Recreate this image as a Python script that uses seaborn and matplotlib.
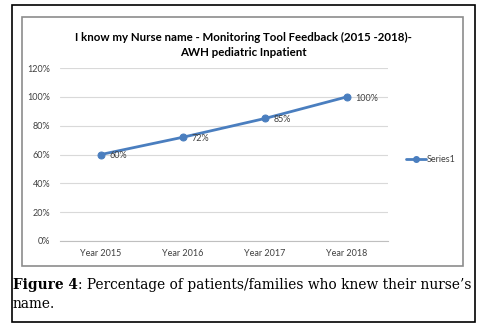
import matplotlib
matplotlib.use("Agg")
import matplotlib.pyplot as plt
import seaborn as sns
import pandas as pd
from matplotlib.patches import Rectangle
from matplotlib.lines import Line2D

categories = ["Year 2015", "Year 2016", "Year 2017", "Year 2018"]
values = [0.60, 0.72, 0.85, 1.00]
value_labels = ["60%", "72%", "85%", "100%"]
y_ticks = [0, 0.2, 0.4, 0.6, 0.8, 1.0, 1.2]
y_tick_labels = ["0%", "20%", "40%", "60%", "80%", "100%", "120%"]
series_name = "Series1"
title = "I know my Nurse name - Monitoring Tool Feedback (2015 -2018)-\nAWH pediatric Inpatient"
caption_bold = "Figure 4"
caption_rest = ": Percentage of patients/families who knew their nurse\u2019s"
caption_line2 = "name."

sns.set_theme(style="white")
plt.rcParams["font.family"] = ["Lato", "DejaVu Sans"]

W, H = 483, 328
fig = plt.figure(figsize=(W / 100, H / 100), dpi=100)
fig.patch.set_facecolor("white")

def fx(px):
    return px / W

def fy(py):
    return 1 - py / H

# borders
fig.add_artist(Rectangle((fx(12), fy(322)), fx(475) - fx(12), fy(5) - fy(322),
                         transform=fig.transFigure, fill=False, ec="black", lw=1.2))
fig.add_artist(Rectangle((fx(22), fy(266)), fx(463) - fx(22), fy(17) - fy(266),
                         transform=fig.transFigure, fill=False, ec="#8c8c8c", lw=1.2))

ax = fig.add_axes([fx(60), fy(241), fx(388) - fx(60), fy(68) - fy(241)])
df = pd.DataFrame({"cat": categories, "val": values, "x": range(len(categories))})
color = "#4a7ebf"
sns.lineplot(data=df, x="x", y="val", ax=ax, color=color, lw=2, marker="o",
             markersize=5, markeredgecolor=color, legend=False)

ax.set_xlim(-0.5, len(categories) - 0.5)
ax.set_ylim(0, 1.2)
ax.set_yticks(y_ticks)
ax.set_yticklabels(y_tick_labels, fontsize=6.5, color="#404040")
ax.set_xticks(range(len(categories)))
ax.set_xticklabels(categories, fontsize=6.5, color="#404040")
ax.set_xlabel("")
ax.set_ylabel("")
ax.tick_params(axis="both", length=0, pad=7)
ax.yaxis.grid(True, color="#d9d9d9", lw=0.8)
ax.xaxis.grid(False)
for s in ["top", "right", "left"]:
    ax.spines[s].set_visible(False)
ax.spines["bottom"].set_color("#bfbfbf")
ax.spines["bottom"].set_linewidth(0.8)
ax.set_xticks([i - 0.5 for i in range(len(categories) + 1)], minor=True)
ax.tick_params(axis="x", which="minor", length=4, color="#bfbfbf", width=0.8, direction="out")
ax.tick_params(axis="x", which="major", pad=6)

for i, (v, lab) in enumerate(zip(values, value_labels)):
    ax.annotate(lab, (i, v), xytext=(6, -1), textcoords="offset points",
                ha="left", va="center", fontsize=6.5, color="#404040")

# title
fig.text(fx(243), fy(45), title, ha="center", va="center", fontsize=8.3,
         fontweight="bold", color="black", linespacing=1.5)

# legend
handle = Line2D([0], [0], color=color, lw=2, marker="o", markersize=4)
fig.legend([handle], [series_name], loc="center left", bbox_to_anchor=(fx(398), fy(160)),
           frameon=False, fontsize=6.5, handlelength=2.2, handletextpad=0.1,
           labelcolor="#404040")

# caption, sized to span the reference width
serif = ["DejaVu Serif"]
renderer = fig.canvas.get_renderer()
target_left, target_right = 13, 471
fs = 10.0
t1 = fig.text(fx(target_left), fy(285), caption_bold, ha="left", va="center", fontsize=fs,
              fontweight="bold", family=serif, color="black")
t2 = fig.text(0, fy(285), caption_rest, ha="left", va="center", fontsize=fs, family=serif,
              color="black")
for _ in range(3):
    w1 = t1.get_window_extent(renderer).width
    w2 = t2.get_window_extent(renderer).width
    scale = (target_right - target_left) / (w1 + w2)
    fs *= scale
    t1.set_fontsize(fs)
    t2.set_fontsize(fs)
w1 = t1.get_window_extent(renderer).width
t2.set_x(fx(target_left + w1))
fig.text(fx(target_left), fy(304), caption_line2, ha="left", va="center", fontsize=fs,
         family=serif, color="black")

fig.savefig("out.png", dpi=100, facecolor="white")
